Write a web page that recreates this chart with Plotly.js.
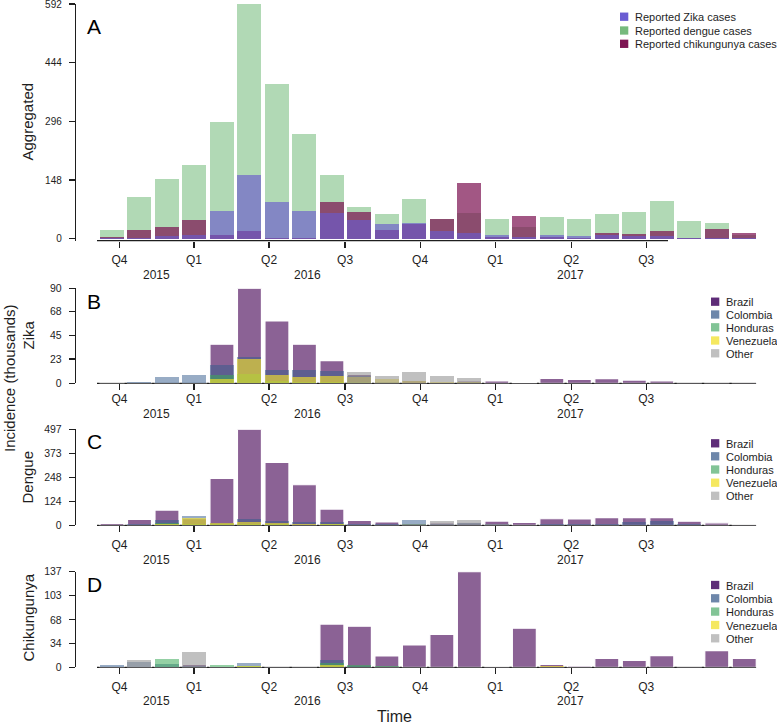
<!DOCTYPE html>
<html><head><meta charset="utf-8">
<script src="https://cdn.plot.ly/plotly-3.0.1.min.js"></script>
<style>body{margin:0;background:#fff}#chart{width:777px;height:725px}</style>
</head><body><div id="chart"></div>
<script>
// ---------- DATA ----------
const periods = [0,1,2,3,4,5,6,7,8,9,10,11,12,13,14,15,16,17,18,19,20,21,22,23];
const quarterTickPos  = [0.273, 2.984, 5.713, 8.479, 11.208, 13.937, 16.703, 19.432];
const quarterTickText = ['Q4','Q1','Q2','Q3','Q4','Q1','Q2','Q3'];
const yearLabels = ['2015','2016','2017'];
const yearPos = [1.627, 7.094, 16.67];

// Panel A: aggregated (thousands)
const zikaAgg   = [2, 3, 7, 9, 71, 160, 92, 71, 66, 48, 37, 39, 19, 15, 9, 5, 9, 7, 9, 8, 6, 3, 2, 1];
const dengueAgg = [22, 104, 150, 186, 294, 591, 390, 264, 161, 79, 62, 101, 50, 64, 51, 30, 55, 51, 62, 68, 95, 45, 40, 9];
const chikAgg   = [5, 22, 29, 47, 10, 20, 1, 3, 93, 67, 22, 37, 51, 140, 5, 57, 5, 3, 14, 11, 19, 2, 24, 14];

// Panel B: Zika by country
const zikaBrazil    = [0.1, 0.1, 0.1, 0.1, 37, 90, 59, 37, 21.4, 8.5, 1, 2.5, 1, 2.2, 2.2, 1.2, 4.7, 3.8, 4.4, 3.1, 2.2, 0.2, 0.2, 0.2];
const zikaColombia  = [0.3, 1, 6.3, 7.6, 17, 24.6, 12.6, 12.6, 12, 7, 1, 0.5, 0.5, 1, 0.5, 0.3, 0.5, 0.3, 0.3, 0.3, 0.2, 0.2, 0.2, 0.2];
const zikaHonduras  = [0.3, 0.3, 0.3, 0.5, 8, 9, 2, 1.5, 1.5, 1, 0.5, 0.3, 0.3, 0.3, 0.2, 0.2, 0.2, 0.2, 0.2, 0.2, 0.2, 0.3, 0.3, 0.3];
const zikaVenezuela = [0.3, 0.2, 0.2, 0.3, 4.1, 22.7, 7.9, 5.7, 7, 5.7, 3.8, 2, 1.5, 1, 0.5, 0.3, 0.3, 0.3, 0.3, 0.3, 0.3, 0.5, 0.5, 0.5];
const zikaOther     = [0, 0, 0, 0, 0, 0, 0, 0, 0, 10.4, 7, 11, 7, 4.7, 0.5, 0.3, 0.3, 0.3, 0.3, 0.2, 0.2, 0, 0, 0];

// Panel C: Dengue by country
const dengueBrazil    = [10, 31, 79, 35, 243, 497, 326, 210, 84, 26, 17, 10, 13, 13, 22, 15, 34, 33, 40, 40, 40, 21, 13, 2];
const dengueColombia  = [3, 8, 27, 46, 12, 31, 24, 19, 19, 8, 5, 27, 8, 10, 5, 4, 5, 5, 8, 19, 24, 5, 4, 1];
const dengueHonduras  = [1, 3, 13, 5, 5, 8, 5, 4, 5, 3, 3, 5, 3, 3, 2, 2, 2, 2, 3, 3, 3, 2, 2, 2];
const dengueVenezuela = [2, 3, 5, 40, 10, 17, 10, 5, 8, 4, 3, 3, 2, 2, 2, 2, 2, 2, 2, 2, 2, 2, 2, 2];
const dengueOther     = [0, 0, 0, 0, 0, 0, 0, 0, 0, 0, 0, 5, 24, 27, 5, 3, 3, 3, 3, 3, 3, 3, 3, 3];

// Panel D: Chikungunya by country
const chikBrazil    = [0.5, 1, 1, 4.3, 1, 1, 0.3, 0.3, 62, 59, 16.2, 32, 47, 137, 0.5, 56, 4.3, 1.9, 12.9, 10, 16.6, 0.3, 23.8, 12.9];
const chikColombia  = [3.7, 7.2, 5, 2, 1, 5.7, 0.2, 0.2, 10.5, 2, 1, 1, 1, 1, 0.3, 0.5, 0.5, 0.5, 0.3, 0.3, 0.3, 0.3, 0.3, 0.3];
const chikHonduras  = [1, 1, 11.5, 1, 3.7, 2, 0.3, 0.3, 5.7, 3.3, 2, 1, 1, 1, 0.5, 0.5, 0.5, 0.5, 0.5, 0.5, 0.5, 0.5, 0.5, 0.5];
const chikVenezuela = [0.5, 0.5, 0.5, 0.5, 0.5, 2.5, 0.3, 0.3, 3, 1, 0.5, 0.5, 0.5, 0.5, 0.3, 0.3, 2, 0.5, 0.3, 0.3, 0.3, 0.3, 0.3, 0.3];
const chikOther     = [0, 10.5, 0, 22.4, 0, 0, 0, 0, 0, 0, 0, 0, 0, 0, 0, 0, 0, 0, 0, 0, 0, 0, 0, 0];

const aggNames = ['Reported Zika cases','Reported dengue cases','Reported chikungunya cases'];
const countryNames = ['Brazil','Colombia','Honduras','Venezuela','Other'];
const yTicksA = [0,148,296,444,592];
const yTicksB = [0,23,45,68,90];
const yTicksC = [0,124,248,373,497];
const yTicksD = [0,34,68,103,137];

// ---------- STYLE ----------
const W = 777, H = 725;
const FONT = 'Liberation Sans, Arial, Helvetica, sans-serif';
const INK = '#1e1e1e';
const barW = 0.873;
const pxPerUnit = 27.49, x0px = 112;          // pixel of period 0 centre
const toX = p => (p - x0px) / pxPerUnit;
const px = v => v / W, py = v => 1 - v / H;

const aggBarCol = {zika:'rgba(106,90,205,0.65)', dengue:'rgba(60,160,70,0.40)', chik:'rgba(122,16,80,0.70)'};
const aggLegCol = ['rgb(106,92,210)','rgb(118,186,125)','rgb(125,20,82)'];
const ctyBarCol = ['rgba(68,1,84,0.62)','rgba(49,90,140,0.5)','rgba(60,170,90,0.55)','rgba(253,231,37,0.6)','rgba(150,150,150,0.6)'];
const ctyLegCol = ['rgb(94,44,120)','rgb(110,135,170)','rgb(130,196,150)','rgb(245,232,95)','rgb(192,192,192)'];

// qStand must be an integer (Plotly ticklabelstandoff)
const panels = [
  {key:'A', top:4,     zero:240.7, ymin:-5.0, ymax:592, ticks:yTicksA, tfs:10,   qStand:2,  yrGap:34,   letterY:26,  title:'Aggregated',  titleY:122, lineEnd:20.226},
  {key:'B', top:288.3, zero:383.3, ymin:0,    ymax:90,  ticks:yTicksB, tfs:10.5, qStand:-2, yrGap:31,   letterY:301, title:'Zika',        titleY:335, lineEnd:23.43},
  {key:'C', top:429.3, zero:525.3, ymin:0,    ymax:497, ticks:yTicksC, tfs:10.5, qStand:2,  yrGap:34.5, letterY:441, title:'Dengue',      titleY:477, lineEnd:23.43},
  {key:'D', top:571.7, zero:667.3, ymin:0,    ymax:137, ticks:yTicksD, tfs:10.5, qStand:2,  yrGap:34,   letterY:584, title:'Chikungunya', titleY:618, lineEnd:23.43}
];

const traces = [];
function addBar(vals, col, idx, name, outline){
  traces.push({
    type:'bar', x:periods, y:vals, width:barW, name:name,
    xaxis: idx===0 ? 'x' : 'x'+(idx+1), yaxis: idx===0 ? 'y' : 'y'+(idx+1),
    marker:{color:col, line: outline ? {color:'#ffffff', width:1.2} : {width:0}},
    showlegend:false, hoverinfo:'x+y+name'
  });
}
// Panel A (dengue at back, then chikungunya, then Zika)
addBar(dengueAgg, aggBarCol.dengue, 0, aggNames[1], false);
addBar(chikAgg,   aggBarCol.chik,   0, aggNames[2], false);
addBar(zikaAgg,   aggBarCol.zika,   0, aggNames[0], false);
const countrySets = [
  [zikaBrazil, zikaColombia, zikaHonduras, zikaVenezuela, zikaOther],
  [dengueBrazil, dengueColombia, dengueHonduras, dengueVenezuela, dengueOther],
  [chikBrazil, chikColombia, chikHonduras, chikVenezuela, chikOther]
];
countrySets.forEach((set, p) => set.forEach((vals, c) => addBar(vals, ctyBarCol[c], p+1, countryNames[c], c===0)));

const layout = {
  width:W, height:H, margin:{l:0,r:0,t:0,b:0},
  paper_bgcolor:'#fff', plot_bgcolor:'rgba(0,0,0,0)',
  barmode:'overlay', bargap:0, showlegend:false,
  font:{family:FONT, color:INK},
  shapes:[], annotations:[]
};
const xLeftPx = 76, xRightPx = 765;
panels.forEach((p, i) => {
  const xa = i===0 ? 'xaxis' : 'xaxis'+(i+1);
  const ya = i===0 ? 'yaxis' : 'yaxis'+(i+1);
  const xr = i===0 ? 'x' : 'x'+(i+1);
  const yr = i===0 ? 'y' : 'y'+(i+1);
  layout[xa] = {
    domain:[px(xLeftPx), px(xRightPx)], range:[toX(xLeftPx), toX(xRightPx)], anchor:yr,
    tickmode:'array', tickvals:quarterTickPos, ticktext:quarterTickText,
    ticks:'outside', ticklen:6, tickwidth:1.2, tickcolor:INK,
    showline:false, showgrid:false, zeroline:false, ticklabeloverflow:'allow',
    tickfont:{size:12, color:INK, family:FONT}, ticklabelstandoff:p.qStand
  };
  layout[ya] = {
    domain:[py(p.zero), py(p.top)], range:[p.ymin, p.ymax], anchor:xr,
    tickmode:'array', tickvals:p.ticks, ticktext:p.ticks.map(String),
    ticks:'outside', ticklen:6, tickwidth:1.2, tickcolor:INK,
    showline:true, linecolor:INK, linewidth:1.2, showgrid:false, zeroline:false,
    ticklabeloverflow:'allow',
    tickfont:{size:p.tfs, color:INK, family:FONT}, ticklabelstandoff:5
  };
  // x-axis baseline
  layout.shapes.push({type:'line', xref:xr, yref:yr+' domain', x0:toX(97), x1:p.lineEnd, y0:0, y1:0,
    line:{color:INK, width:1.2}, layer:'below'});
  // year labels
  yearLabels.forEach((t, k) => layout.annotations.push({
    text:t, xref:xr, yref:yr+' domain', x:yearPos[k], y:0, yshift:-p.yrGap,
    xanchor:'center', yanchor:'middle', showarrow:false, font:{size:12, color:INK}
  }));
  // panel letter
  layout.annotations.push({text:p.key, xref:'paper', yref:'paper', x:px(85), y:py(p.letterY),
    xanchor:'left', yanchor:'middle', showarrow:false, font:{size:21, color:'#000'}});
  // panel y title
  layout.annotations.push({text:p.title, xref:'paper', yref:'paper', x:px(27.5), y:py(p.titleY),
    textangle:-90, xanchor:'center', yanchor:'middle', showarrow:false, font:{size:15, color:INK}});
});

// legends
function addLegend(names, cols, sqX, txtX, rows){
  names.forEach((n, k) => {
    const cy = rows[k];
    layout.shapes.push({type:'rect', xref:'paper', yref:'paper', x0:px(sqX), x1:px(sqX+8.3),
      y0:py(cy+4.15), y1:py(cy-4.15), fillcolor:cols[k], line:{width:0}});
    layout.annotations.push({text:n, xref:'paper', yref:'paper', x:px(txtX), y:py(cy+0.5),
      xanchor:'left', yanchor:'middle', showarrow:false, font:{size:11, color:INK}});
  });
}
addLegend(aggNames, aggLegCol, 620, 632.5, [16.7, 30.5, 43.8]);
addLegend(countryNames, ctyLegCol, 711, 724, [301.7, 314.5, 327.3, 340.5, 353.3]);
addLegend(countryNames, ctyLegCol, 711, 724, [443.3, 456.3, 469.5, 482.7, 495.8]);
addLegend(countryNames, ctyLegCol, 711, 724, [585, 598.3, 611.6, 625, 638.3]);

// overall titles
layout.annotations.push({text:'Incidence (thousands)', xref:'paper', yref:'paper', x:px(10), y:py(378),
  textangle:-90, xanchor:'center', yanchor:'middle', showarrow:false, font:{size:15, color:INK}});
layout.annotations.push({text:'Time', xref:'paper', yref:'paper', x:px(395), y:py(716),
  xanchor:'center', yanchor:'middle', showarrow:false, font:{size:16, color:INK}});

Plotly.newPlot('chart', traces, layout, {staticPlot:true, displayModeBar:false});
</script></body></html>
